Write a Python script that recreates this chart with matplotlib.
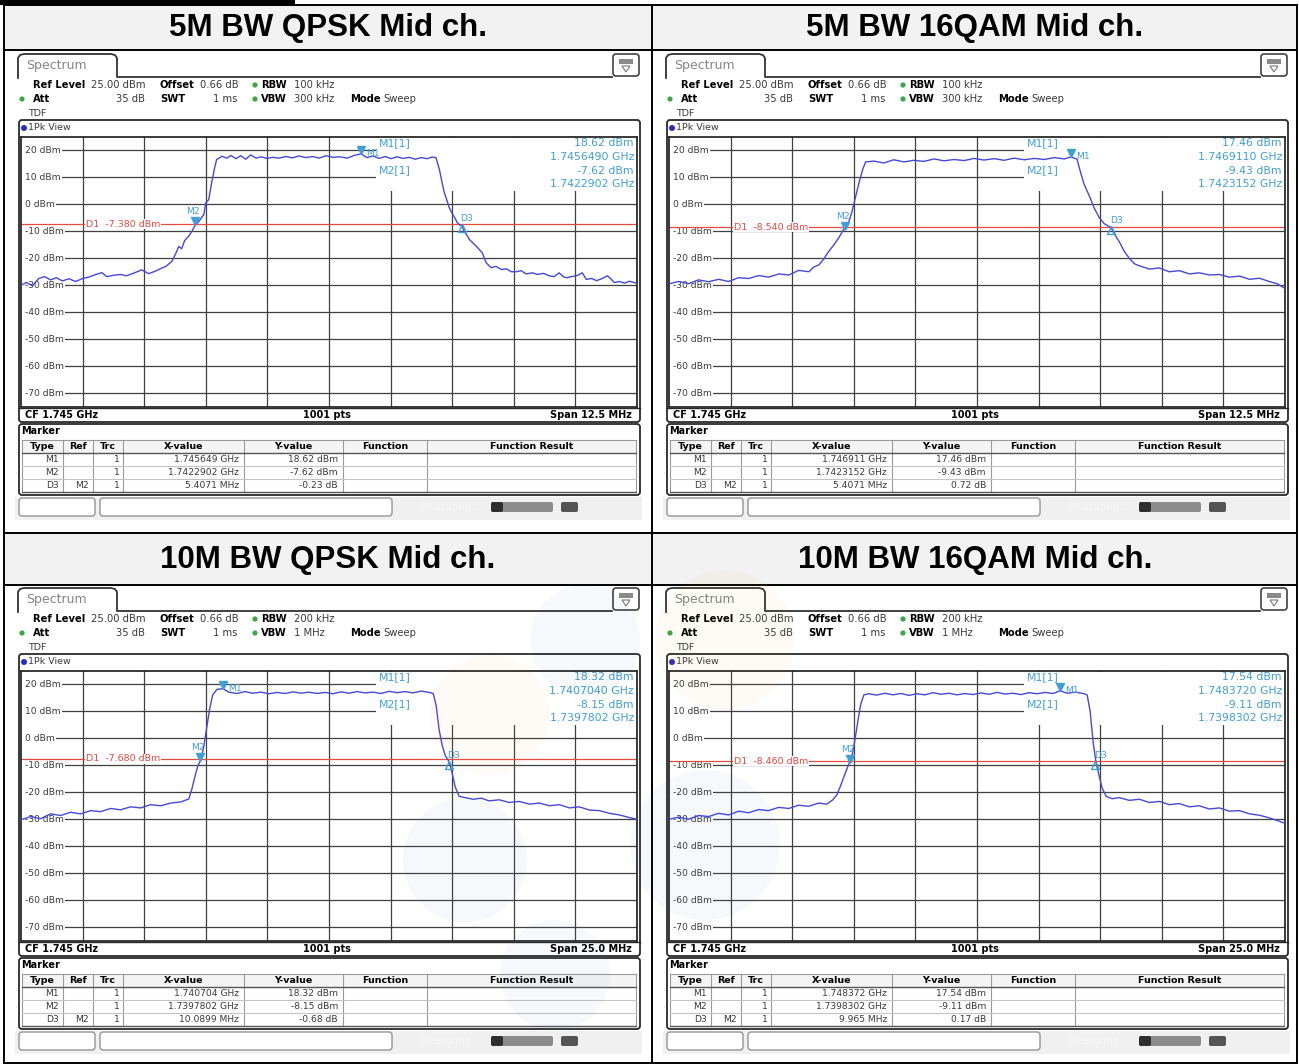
import matplotlib
matplotlib.use('Agg')
import matplotlib.pyplot as plt
from matplotlib.patches import Rectangle, FancyBboxPatch, Circle, Polygon
from matplotlib.transforms import blended_transform_factory, offset_copy

# ---------------- data ----------------
titles = ["5M BW QPSK Mid ch.", "5M BW 16QAM Mid ch.",
          "10M BW QPSK Mid ch.", "10M BW 16QAM Mid ch."]
cf_ghz = 1.745
span_mhz = [12.5, 12.5, 25.0, 25.0]
rbw = ["100 kHz", "100 kHz", "200 kHz", "200 kHz"]
vbw = ["300 kHz", "300 kHz", "1 MHz", "1 MHz"]
ref_level = "25.00 dBm"
offset_db = "0.66 dB"
att = "35 dB"
swt = "1 ms"
y_levels = [20, 10, 0, -10, -20, -30, -40, -50, -60, -70]
d1_level = [-7.380, -8.540, -7.680, -8.460]
m1_freq_ghz = [1.745649, 1.746911, 1.740704, 1.748372]
m1_level = [18.62, 17.46, 18.32, 17.54]
m2_freq_ghz = [1.7422902, 1.7423152, 1.7397802, 1.7398302]
m2_level = [-7.62, -9.43, -8.15, -9.11]
d3_delta_mhz = [5.4071, 5.4071, 10.0899, 9.965]
d3_delta_db = [-0.23, 0.72, -0.68, 0.17]
m1_x_table = ["1.745649 GHz", "1.746911 GHz", "1.740704 GHz", "1.748372 GHz"]
m1_x_readout = ["1.7456490 GHz", "1.7469110 GHz", "1.7407040 GHz", "1.7483720 GHz"]
m2_x_text = ["1.7422902 GHz", "1.7423152 GHz", "1.7397802 GHz", "1.7398302 GHz"]
d3_x_text = ["5.4071 MHz", "5.4071 MHz", "10.0899 MHz", "9.965 MHz"]
sweep_points = "1001 pts"

# traces: frequency offset from CF (MHz) and level (dBm), read from the screens
qpsk5_freq = [-6.25, -6.14, -6.02, -5.89, -5.77, -5.65, -5.53, -5.41, -5.28, -5.14,
              -5.00, -4.88, -4.76, -4.61, -4.51, -4.37, -4.23, -4.11, -3.96, -3.80,
              -3.66, -3.54, -3.41, -3.31, -3.19, -3.09, -3.05, -2.99, -2.93, -2.85,
              -2.78, -2.72, -2.64, -2.58, -2.54, -2.50, -2.44, -2.38, -2.32, -2.28,
              -2.17, -2.07, -1.99, -1.89, -1.79, -1.69, -1.59, -1.48, -1.38, -1.26,
              -1.14, -1.02, -0.87, -0.75, -0.61, -0.47, -0.33, -0.20, -0.06, 0.08,
              0.22, 0.37, 0.51, 0.65, 0.77, 0.89, 1.02, 1.14, 1.26, 1.38,
              1.50, 1.63, 1.75, 1.87, 1.99, 2.09, 2.17, 2.24, 2.30, 2.34,
              2.40, 2.44, 2.50, 2.54, 2.60, 2.66, 2.70, 2.74, 2.80, 2.85,
              2.93, 3.01, 3.11, 3.19, 3.29, 3.39, 3.50, 3.60, 3.70, 3.80,
              3.90, 4.00, 4.13, 4.23, 4.35, 4.47, 4.57, 4.67, 4.76, 4.82,
              4.92, 5.02, 5.14, 5.22, 5.33, 5.43, 5.53, 5.65, 5.73, 5.79,
              5.89, 6.00, 6.10, 6.25]
qpsk5_level = [-30.0, -29.0, -30.2, -27.5, -26.8, -28.0, -27.2, -28.4, -27.6, -28.6,
               -27.5, -27.0, -26.2, -25.3, -26.8, -26.3, -26.0, -26.5, -25.5, -24.3,
               -25.7, -24.9, -23.8, -23.0, -21.2, -17.5, -15.6, -16.5, -13.5, -11.9,
               -10.0, -7.9, -6.4, -4.8, -3.9, 0.5, 1.7, 8.0, 13.5, 16.5,
               17.7, 17.0, 18.0, 16.8, 17.9, 16.6, 18.2, 17.0, 17.5, 16.9,
               17.3, 17.0, 17.6, 17.1, 17.8, 17.2, 17.6, 17.0, 17.9, 17.3,
               17.5, 17.0, 18.0, 18.6, 17.2, 17.8, 16.9, 17.6, 16.8, 17.5,
               16.9, 17.3, 16.6, 17.2, 16.8, 17.4, 17.2, 12.8, 7.5, 4.3,
               1.0, -1.3, -3.5, -4.6, -6.8, -7.8, -7.9, -10.0, -11.5, -13.1,
               -14.5, -16.0, -18.0, -21.7, -23.5, -23.0, -24.2, -23.9, -25.0, -25.0,
               -24.6, -25.8, -25.4, -26.0, -25.6, -26.5, -26.8, -25.4, -26.9, -27.2,
               -26.8, -26.5, -25.4, -27.8, -27.5, -28.3, -27.6, -26.5, -27.8, -29.0,
               -28.6, -29.2, -28.5, -29.3]

qam5_freq = [-6.25, -6.06, -5.85, -5.65, -5.45, -5.24, -5.04, -4.84, -4.63, -4.43,
             -4.23, -4.02, -3.82, -3.62, -3.41, -3.31, -3.21, -3.11, -3.01, -2.91,
             -2.80, -2.71, -2.60, -2.54, -2.48, -2.40, -2.32, -2.26, -2.09, -1.89,
             -1.69, -1.48, -1.28, -1.08, -0.87, -0.67, -0.47, -0.26, -0.06, 0.14,
             0.35, 0.55, 0.75, 0.96, 1.16, 1.36, 1.57, 1.77, 1.91, 2.03,
             2.09, 2.17, 2.28, 2.38, 2.48, 2.58, 2.72, 2.78, 2.89, 2.99,
             3.09, 3.19, 3.29, 3.50, 3.70, 3.90, 4.11, 4.31, 4.51, 4.72,
             4.92, 5.12, 5.33, 5.53, 5.73, 5.93, 6.10, 6.25]
qam5_level = [-29.5, -28.6, -29.4, -28.0, -28.7, -27.8, -28.6, -27.2, -27.5, -26.4,
              -27.0, -25.8, -26.2, -24.5, -25.0, -23.2, -22.5, -20.3, -17.5, -15.2,
              -12.3, -9.4, -6.5, -3.0, 1.5, 7.5, 12.8, 15.6, 15.9, 15.2,
              16.4, 15.6, 16.2, 15.8, 16.7, 16.0, 16.5, 16.1, 16.9, 16.3,
              16.8, 16.2, 17.0, 16.4, 16.9, 16.5, 17.2, 16.7, 17.46, 16.6,
              12.5, 7.5, 3.0, -1.5, -5.0, -7.2, -8.7, -10.8, -14.0, -17.5,
              -20.0, -22.0, -22.8, -24.0, -23.6, -25.0, -24.6, -25.8, -25.4, -26.2,
              -26.0, -27.0, -26.6, -27.8, -27.4, -28.6, -29.5, -31.2]

qpsk10_freq = [-12.50, -12.11, -11.71, -11.30, -10.89, -10.49, -10.08, -9.67, -9.27, -8.86,
               -8.46, -8.05, -7.64, -7.24, -6.83, -6.42, -6.02, -5.69, -5.57, -5.45,
               -5.33, -5.20, -5.08, -4.96, -4.84, -4.72, -4.55, -4.31, -4.07, -3.74,
               -3.41, -3.09, -2.76, -2.44, -2.11, -1.79, -1.46, -1.14, -0.81, -0.49,
               -0.16, 0.16, 0.49, 0.81, 1.14, 1.46, 1.79, 2.11, 2.44, 2.76,
               3.09, 3.41, 3.74, 4.07, 4.23, 4.35, 4.47, 4.59, 4.72, 4.88,
               5.00, 5.12, 5.28, 5.53, 5.85, 6.18, 6.50, 6.91, 7.32, 7.72,
               8.13, 8.54, 8.94, 9.35, 9.76, 10.16, 10.57, 10.98, 11.38, 11.79,
               12.20, 12.50]
qpsk10_level = [-30.2, -29.0, -29.8, -28.0, -28.6, -27.4, -28.0, -26.8, -27.2, -26.0,
                -26.5, -25.4, -25.8, -24.6, -25.0, -24.0, -23.6, -22.5, -19.0, -14.5,
                -10.5, -8.0, -3.0, 4.0, 11.0, 16.0, 18.0, 18.3, 17.0, 16.5,
                17.2, 16.6, 17.0, 16.4, 16.9, 16.5, 17.1, 16.6, 17.0, 16.5,
                16.9, 16.4, 17.1, 16.6, 17.2, 16.7, 17.0, 16.5, 17.3, 16.8,
                17.2, 16.7, 17.4, 16.9, 16.5, 12.0, 3.0, -2.5, -6.5, -8.8,
                -13.0, -18.0, -21.5, -22.0, -22.6, -22.2, -23.2, -22.8, -23.8, -23.4,
                -24.4, -24.0, -25.0, -24.6, -25.8, -25.4, -26.6, -26.8, -27.8, -28.4,
                -29.4, -30.0]

qam10_freq = [-12.50, -12.11, -11.71, -11.30, -10.89, -10.49, -10.08, -9.67, -9.27, -8.86,
              -8.46, -8.05, -7.64, -7.24, -6.83, -6.42, -6.10, -5.85, -5.69, -5.53,
              -5.37, -5.20, -5.08, -4.96, -4.84, -4.72, -4.59, -4.39, -4.07, -3.74,
              -3.41, -3.09, -2.76, -2.44, -2.11, -1.79, -1.46, -1.14, -0.81, -0.49,
              -0.16, 0.16, 0.49, 0.81, 1.14, 1.46, 1.79, 2.11, 2.44, 2.76,
              3.09, 3.37, 3.66, 3.98, 4.31, 4.47, 4.59, 4.72, 4.84, 4.96,
              5.08, 5.24, 5.49, 5.77, 6.18, 6.59, 7.00, 7.40, 7.80, 8.21,
              8.62, 9.02, 9.43, 9.84, 10.24, 10.65, 11.06, 11.46, 11.87, 12.20,
              12.50]
qam10_level = [-30.0, -29.2, -30.0, -28.6, -29.0, -27.8, -28.4, -27.0, -27.6, -26.4,
               -26.8, -25.6, -26.0, -24.8, -25.2, -24.0, -24.4, -22.8, -21.0, -17.5,
               -13.5, -9.5, -7.0, -1.0, 6.0, 12.5, 16.0, 16.4, 15.9, 16.6,
               16.0, 16.5, 15.8, 16.4, 16.0, 16.8, 16.2, 16.6, 16.0, 16.5,
               16.1, 16.7, 16.2, 16.9, 16.3, 16.6, 16.1, 16.8, 16.4, 16.9,
               16.5, 17.5, 16.6, 17.0, 16.5, 16.0, 10.0, -2.0, -9.5, -14.0,
               -18.5, -21.5, -22.4, -22.0, -23.0, -22.6, -23.8, -23.4, -24.6, -24.2,
               -25.4, -25.0, -26.2, -25.8, -27.0, -26.8, -28.0, -28.5, -29.5, -30.5,
               -31.5]

trace_freq = [qpsk5_freq, qam5_freq, qpsk10_freq, qam10_freq]
trace_level = [qpsk5_level, qam5_level, qpsk10_level, qam10_level]

# ---------------- style ----------------
W, H = 1299, 1064
C_TRACE = '#4848dc'
C_MK = '#3f9fd8'
C_RED = '#e8493f'
C_GRID = '#404040'
C_TXT = '#3a3a3a'
C_GREEN = '#3aa845'
FS = 7.2
HDR_FONT = ['Liberation Sans', 'DejaVu Sans']

fig = plt.figure(figsize=(W / 100, H / 100), dpi=100)
ov = fig.add_axes([0, 0, 1, 1], zorder=0)
ov.set_xlim(0, W)
ov.set_ylim(H, 0)
ov.axis('off')
P = ov.transData


def rrect(ax, x0, y0, x1, y1, r=3, **kw):
    p = FancyBboxPatch((x0 + r, y0 + r), (x1 - x0) - 2 * r, (y1 - y0) - 2 * r,
                       boxstyle=f"round,pad={r}", transform=P, clip_on=False, **kw)
    ax.add_patch(p)
    return p


def T(ax, x, y, s, bold=False, ha='left', color=C_TXT, size=FS, zorder=5, **kw):
    ax.text(x, y, s, ha=ha, va='center', fontsize=size, color=color,
            fontweight='bold' if bold else 'normal', transform=P, clip_on=False,
            zorder=zorder, **kw)


# ---------------- table frame ----------------
ov.add_patch(Rectangle((5, 5), 1292, 45, fc='#f2f2f2', ec='none'))
ov.add_patch(Rectangle((5, 533), 1292, 52, fc='#f2f2f2', ec='none'))
ov.add_patch(Rectangle((0, 0), 295, 4.5, fc='black', ec='none'))
for y in [5, 50, 533, 585, 1063]:
    ov.plot([4, 1297], [y, y], color='black', lw=1.4)
for x in [4.5, 652, 1297]:
    ov.plot([x, x], [5, 1064], color='black', lw=1.4)
title_pos = [(328, 28), (975, 28), (328, 560), (975, 560)]
for t, (x, y) in zip(titles, title_pos):
    ov.text(x, y, t, ha='center', va='center', fontsize=22.5, fontweight='bold',
            family=HDR_FONT, color='black')

# ---------------- panels ----------------
offsets = [(0, 0), (648, 0), (0, 534), (648, 534)]

for i, (ox, oy) in enumerate(offsets):
    # Spectrum tab
    tab = [(18, 78), (18, 58), (20, 55), (24, 54), (111, 54), (115, 55), (117, 58),
           (117, 77), (612, 77)]
    ov.plot([ox + a for a, b in tab], [oy + b for a, b in tab], color='#333333', lw=1.3,
            solid_joinstyle='round')
    T(ov, ox + 26, oy + 66, "Spectrum", color='#858585', size=9)
    rrect(ov, ox + 613, oy + 54, ox + 639, oy + 76, r=3, fc='white', ec='#333333', lw=1.1)
    ov.add_patch(Rectangle((ox + 619, oy + 59), 14, 5, fc='#8a8a8a', ec='none'))
    ov.add_patch(Polygon([(ox + 622, oy + 66), (ox + 630, oy + 66), (ox + 626, oy + 72)],
                         closed=True, fc='none', ec='#777777', lw=0.8))

    # settings lines
    y1, y2, y3 = oy + 85, oy + 99, oy + 113
    T(ov, ox + 33, y1, "Ref Level", bold=True, color='black')
    T(ov, ox + 91, y1, ref_level)
    T(ov, ox + 160, y1, "Offset", bold=True, color='black')
    T(ov, ox + 200, y1, offset_db)
    ov.add_patch(Circle((ox + 255, y1), 2.6, fc=C_GREEN, ec='none'))
    T(ov, ox + 261, y1, "RBW", bold=True, color='black')
    T(ov, ox + 294, y1, rbw[i])
    ov.add_patch(Circle((ox + 22, y2), 2.6, fc=C_GREEN, ec='none'))
    T(ov, ox + 33, y2, "Att", bold=True, color='black')
    T(ov, ox + 145, y2, att, ha='right')
    T(ov, ox + 160, y2, "SWT", bold=True, color='black')
    T(ov, ox + 237, y2, swt, ha='right')
    ov.add_patch(Circle((ox + 255, y2), 2.6, fc=C_GREEN, ec='none'))
    T(ov, ox + 261, y2, "VBW", bold=True, color='black')
    T(ov, ox + 294, y2, vbw[i])
    T(ov, ox + 350, y2, "Mode", bold=True, color='black')
    T(ov, ox + 383, y2, "Sweep")
    T(ov, ox + 28, y3, "TDF", size=6.8)

    # window
    rrect(ov, ox + 19, oy + 120, ox + 640, oy + 422, r=3, fc='white', ec='#2a2a2a', lw=1.3)
    ov.add_patch(Circle((ox + 24, oy + 128), 3.0, fc='#2b2bd0', ec='none'))
    T(ov, ox + 28.5, oy + 128, "1Pk View", size=6.8)
    ov.plot([ox + 19, ox + 640], [oy + 408, oy + 408], color='#2a2a2a', lw=1.0)
    T(ov, ox + 25, oy + 414.5, "CF 1.745 GHz", bold=True, color='black', size=7)
    T(ov, ox + 327, oy + 414.5, sweep_points, bold=True, color='black', size=7, ha='center')
    T(ov, ox + 632, oy + 414.5, f"Span {span_mhz[i]:.1f} MHz", bold=True, color='black',
      size=7, ha='right')

    # plot axes
    pl, pt, pr, pb = ox + 21, oy + 136.5, ox + 637, oy + 407
    ax = fig.add_axes([pl / W, 1 - pb / H, (pr - pl) / W, (pb - pt) / H], zorder=1)
    ax.patch.set_alpha(0)
    half = span_mhz[i] / 2
    ax.set_xlim(-half, half)
    ax.set_ylim(-75, 25)
    ax.set_xticks([])
    ax.set_yticks([])
    for s in ax.spines.values():
        s.set_color('#2a2a2a')
        s.set_linewidth(1.3)
    for k in range(1, 10):
        ax.axvline(-half + k * span_mhz[i] / 10, color=C_GRID, lw=0.9, zorder=1)
    ylab_tr = blended_transform_factory(P, ax.transData)
    for lv in y_levels:
        ax.axhline(lv, color=C_GRID, lw=0.9, zorder=1)
        ax.add_patch(Rectangle((ox + 22, lv - 1.6), 4, 3.2, transform=ylab_tr, fc='white',
                               ec='none', zorder=1.5))
        ax.text(ox + 25, lv, f"{lv} dBm", transform=ylab_tr, fontsize=6.6, color=C_TXT,
                va='center', ha='left', zorder=2,
                bbox=dict(fc='white', ec='none', pad=0.8))
    ax.axhline(d1_level[i], color=C_RED, lw=0.9, zorder=2.2)
    ax.text(ox + 86, d1_level[i], f"D1  {d1_level[i]:.3f} dBm", transform=ylab_tr,
            fontsize=6.8, color=C_RED, va='center', ha='left', zorder=2.3,
            bbox=dict(fc='white', ec='none', pad=0.4))
    # readout area
    ax.add_patch(Rectangle((ox + 376, oy + 137.5), 261, 53, transform=P, fc='white',
                           ec='none', zorder=2.5, clip_on=False))

    # trace
    ax.plot(trace_freq[i], trace_level[i], color=C_TRACE, lw=1.0, zorder=4)

    # markers
    m1x = (m1_freq_ghz[i] - cf_ghz) * 1000
    m2x = (m2_freq_ghz[i] - cf_ghz) * 1000
    d3x = m2x + d3_delta_mhz[i]
    d3y = m2_level[i] + d3_delta_db[i]
    up = offset_copy(ax.transData, fig=fig, y=3.5, units='dots')
    ax.plot([m1x], [m1_level[i]], marker='v', ms=6, color=C_MK, transform=up, zorder=6,
            clip_on=False)
    ax.plot([m2x], [m2_level[i]], marker='v', ms=6, color=C_MK, transform=up, zorder=6)
    ax.plot([d3x], [d3y], marker='^', ms=5.5, mfc='none', mec=C_MK, mew=1.0,
            transform=offset_copy(ax.transData, fig=fig, y=-2.5, units='dots'), zorder=6)
    ax.annotate("M1", (m1x, m1_level[i]), xytext=(5, 0), textcoords='offset pixels',
                fontsize=6.6, color=C_MK, va='center', ha='left', zorder=6)
    ax.annotate("M2", (m2x, m2_level[i]), xytext=(-2, 13), textcoords='offset pixels',
                fontsize=6.6, color=C_MK, va='center', ha='center', zorder=6)
    ax.annotate("D3", (d3x, d3y), xytext=(5, 7), textcoords='offset pixels',
                fontsize=6.6, color=C_MK, va='center', ha='center', zorder=6)

    # readouts
    def R(x, y, s, ha):
        ax.text(ox + x, oy + y, s, transform=P, fontsize=7.8, color=C_MK, ha=ha,
                va='center', zorder=7, clip_on=False)
    R(379, 143.5, "M1[1]", 'left')
    R(634, 143.5, f"{m1_level[i]:.2f} dBm", 'right')
    R(634, 157, m1_x_readout[i], 'right')
    R(379, 170.5, "M2[1]", 'left')
    R(634, 170.5, f"{m2_level[i]:.2f} dBm", 'right')
    R(634, 184, m2_x_text[i], 'right')

    # marker table
    rrect(ov, ox + 19, oy + 424, ox + 640, oy + 495, r=3, fc='white', ec='#2a2a2a', lw=1.3)
    T(ov, ox + 21, oy + 431.5, "Marker", bold=True, color='black', size=7)
    cols = [22, 63, 93, 123, 244, 343, 427, 636]
    ov.add_patch(Rectangle((ox + 22, oy + 439.5), 614, 13.5, fc='#f4f4f4', ec='none'))
    for x in cols:
        ov.plot([ox + x, ox + x], [oy + 439.5, oy + 492], color='#9a9a9a', lw=0.8)
    for y, c, lw in [(439.5, '#9a9a9a', 0.8), (453, '#555555', 1.0), (466, '#c4c4c4', 0.8),
                     (479, '#c4c4c4', 0.8), (492, '#555555', 1.0)]:
        ov.plot([ox + 22, ox + 636], [oy + y, oy + y], color=c, lw=lw)
    heads = ["Type", "Ref", "Trc", "X-value", "Y-value", "Function", "Function Result"]
    for h, a, b in zip(heads, cols[:-1], cols[1:]):
        T(ov, ox + (a + b) / 2, oy + 446.5, h, bold=True, color='black', size=6.8, ha='center')
    rows = [("M1", "", "1", m1_x_table[i], f"{m1_level[i]:.2f} dBm"),
            ("M2", "", "1", m2_x_text[i], f"{m2_level[i]:.2f} dBm"),
            ("D3", "M2", "1", d3_x_text[i], f"{d3_delta_db[i]:.2f} dB")]
    for r, (ty, rf, tr, xv, yv) in enumerate(rows):
        yy = oy + 459.5 + 13 * r
        T(ov, ox + 59, yy, ty, size=6.6, ha='right')
        T(ov, ox + 89, yy, rf, size=6.6, ha='right')
        T(ov, ox + 120, yy, tr, size=6.6, ha='right')
        T(ov, ox + 239, yy, xv, size=6.6, ha='right')
        T(ov, ox + 338, yy, yv, size=6.6, ha='right')

    # status bar
    ov.add_patch(Rectangle((ox + 15, oy + 496.5), 627, 23, fc='#f0f0f0', ec='none'))
    rrect(ov, ox + 19, oy + 498, ox + 95, oy + 516, r=3, fc='white', ec='#8a8a8a', lw=0.9)
    rrect(ov, ox + 100, oy + 498, ox + 392, oy + 516, r=3, fc='white', ec='#8a8a8a', lw=0.9)
    rrect(ov, ox + 491, oy + 502, ox + 553, oy + 512, r=2, fc='#8c8c8c', ec='none')
    rrect(ov, ox + 491, oy + 502, ox + 503, oy + 512, r=2, fc='#2e2e2e', ec='none')
    rrect(ov, ox + 561, oy + 502, ox + 578, oy + 512, r=2, fc='#555555', ec='none')
    T(ov, ox + 420, oy + 507, "Measuring...", color='#f8f8f8', size=7)

# faint watermark behind the lower row
wm = fig.add_axes([0, 0, 1, 1], zorder=5)
wm.set_xlim(0, W)
wm.set_ylim(H, 0)
wm.axis('off')
for (cx, cy, r, c) in [(585, 640, 55, '#2a5caa'), (490, 715, 60, '#f0a030'),
                       (465, 860, 62, '#2a5caa'), (555, 975, 55, '#2a5caa'),
                       (725, 640, 70, '#f0a030'), (705, 845, 75, '#2a5caa')]:
    wm.add_patch(Circle((cx, cy), r, fc=c, ec='none', alpha=0.04))

fig.savefig('out.png', dpi=100)
